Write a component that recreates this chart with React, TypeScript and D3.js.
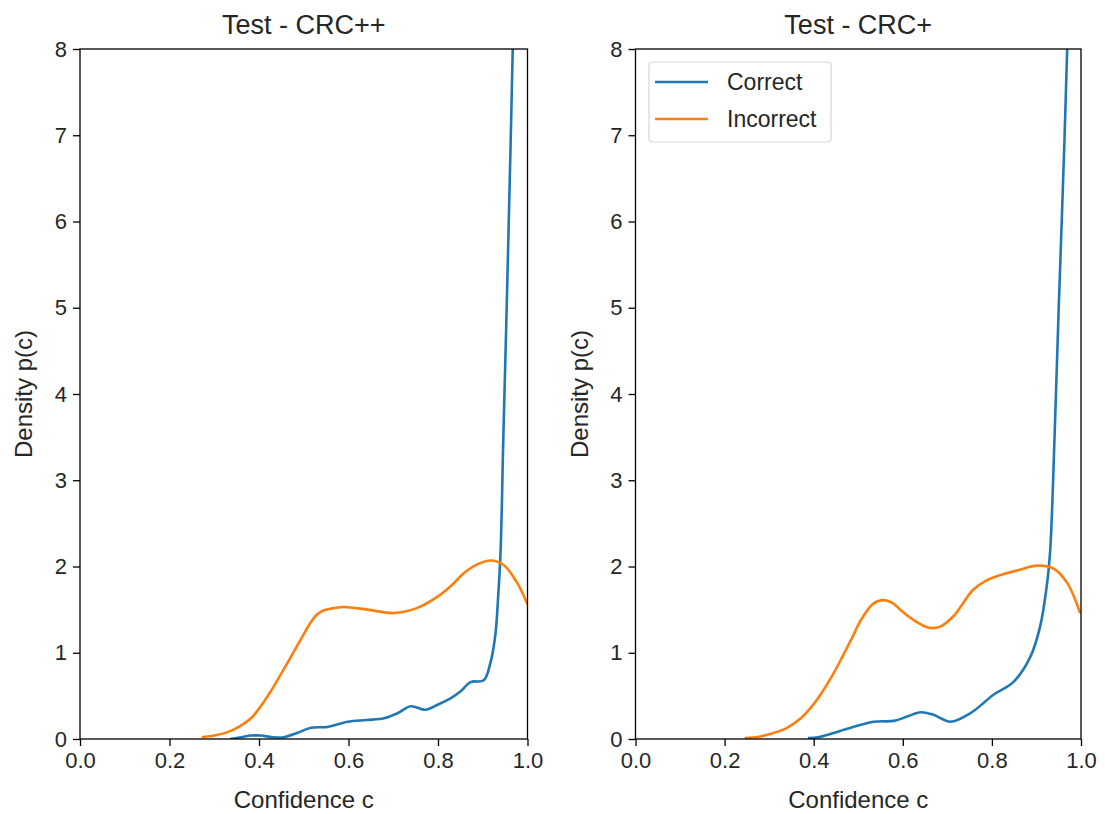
import React, { useEffect, useRef } from 'react';
import * as d3 from 'd3';

// ---- data ----
const xTicks = [0.0, 0.2, 0.4, 0.6, 0.8, 1.0];
const yTicks = [0, 1, 2, 3, 4, 5, 6, 7, 8];
const seriesNames = ['Correct', 'Incorrect'];
const seriesColors = ['#1f77b4', '#ff7f0e'];
const panelTitles = ['Test - CRC++', 'Test - CRC+'];

// left panel (CRC++)
const crcppCorrectC = [0.335, 0.36, 0.382, 0.404, 0.43, 0.455, 0.485, 0.516, 0.553, 0.598, 0.64, 0.679, 0.71, 0.739, 0.772, 0.8, 0.828, 0.85, 0.873, 0.902, 0.917, 0.928, 0.935, 0.94, 0.946, 0.953, 0.96, 0.967, 0.975];
const crcppCorrectD = [0.0, 0.02, 0.04, 0.04, 0.02, 0.02, 0.07, 0.13, 0.14, 0.2, 0.22, 0.24, 0.3, 0.38, 0.34, 0.4, 0.47, 0.55, 0.66, 0.68, 0.88, 1.2, 1.7, 2.2, 3.5, 4.9, 6.4, 8.0, 10.5];
const crcppIncorrectC = [0.272, 0.3, 0.33, 0.355, 0.382, 0.404, 0.426, 0.45, 0.471, 0.495, 0.514, 0.529, 0.544, 0.559, 0.589, 0.642, 0.701, 0.754, 0.799, 0.83, 0.857, 0.89, 0.917, 0.946, 0.977, 1.0];
const crcppIncorrectD = [0.02, 0.04, 0.08, 0.14, 0.24, 0.38, 0.55, 0.76, 0.95, 1.17, 1.34, 1.44, 1.49, 1.51, 1.53, 1.5, 1.46, 1.52, 1.65, 1.78, 1.92, 2.03, 2.07, 2.02, 1.81, 1.56];

// right panel (CRC+)
const crcpCorrectC = [0.387, 0.41, 0.432, 0.483, 0.535, 0.58, 0.61, 0.64, 0.669, 0.707, 0.752, 0.803, 0.848, 0.886, 0.908, 0.924, 0.931, 0.94, 0.95, 0.96, 0.969, 0.977];
const crcpCorrectD = [0.01, 0.02, 0.05, 0.13, 0.2, 0.21, 0.26, 0.31, 0.28, 0.2, 0.3, 0.51, 0.66, 0.95, 1.3, 1.81, 2.2, 3.4, 5.0, 6.5, 8.0, 10.5];
const crcpIncorrectC = [0.245, 0.28, 0.31, 0.34, 0.371, 0.393, 0.416, 0.44, 0.461, 0.485, 0.506, 0.534, 0.556, 0.579, 0.594, 0.624, 0.659, 0.683, 0.713, 0.758, 0.788, 0.819, 0.86, 0.901, 0.937, 0.969, 0.998];
const crcpIncorrectD = [0.01, 0.03, 0.07, 0.13, 0.24, 0.36, 0.52, 0.72, 0.92, 1.16, 1.38, 1.57, 1.61, 1.57, 1.5, 1.38, 1.29, 1.3, 1.42, 1.73, 1.84, 1.9, 1.96, 2.01, 1.98, 1.81, 1.46];

const panels = [
  { title: panelTitles[0], series: [[crcppCorrectC, crcppCorrectD], [crcppIncorrectC, crcppIncorrectD]], left: 80, right: 527.5, legend: false },
  { title: panelTitles[1], series: [[crcpCorrectC, crcpCorrectD], [crcpIncorrectC, crcpIncorrectD]], left: 635.5, right: 1081, legend: true },
];

const FONT = '"Liberation Sans", Arial, sans-serif';
const TOP = 49;
const BOTTOM = 739;

const App = () => {
  const svgRef = useRef<SVGSVGElement | null>(null);

  useEffect(() => {
    const svg = d3.select(svgRef.current);
    svg.selectAll('*').remove();

    svg.append('rect').attr('width', 1105).attr('height', 814).attr('fill', '#fff');

    panels.forEach((p, pi) => {
      const x = d3.scaleLinear().domain([0, 1]).range([p.left, p.right]);
      const y = d3.scaleLinear().domain([0, 8]).range([BOTTOM, TOP]);

      const clipId = `clip-${pi}`;
      svg.append('clipPath').attr('id', clipId)
        .append('rect')
        .attr('x', p.left).attr('y', TOP)
        .attr('width', p.right - p.left).attr('height', BOTTOM - TOP);

      const line = d3.line<[number, number]>()
        .x(d => x(d[0]))
        .y(d => y(d[1]))
        .curve(d3.curveCatmullRom.alpha(0.5));

      p.series.forEach(([cs, ds], si) => {
        const pts = cs.map((c, i) => [c, ds[i]] as [number, number]);
        svg.append('path')
          .datum(pts)
          .attr('clip-path', `url(#${clipId})`)
          .attr('fill', 'none')
          .attr('stroke', seriesColors[si])
          .attr('stroke-width', 2.6)
          .attr('stroke-linejoin', 'round')
          .attr('d', line);
      });

      // axes
      const xAxis = svg.append('g')
        .attr('transform', `translate(0,${BOTTOM})`)
        .call(d3.axisBottom(x).tickValues(xTicks).tickFormat(d3.format('.1f')).tickSizeInner(7).tickSizeOuter(0).tickPadding(6));
      const yAxis = svg.append('g')
        .attr('transform', `translate(${p.left},0)`)
        .call(d3.axisLeft(y).tickValues(yTicks).tickFormat(d3.format('d')).tickSizeInner(7).tickSizeOuter(0).tickPadding(6));
      [xAxis, yAxis].forEach(a => {
        a.select('.domain').remove();
        a.selectAll('line').attr('stroke', '#000').attr('stroke-width', 1.3);
        a.selectAll('text').attr('fill', '#262626').style('font-family', FONT).style('font-size', '22px');
      });

      // frame
      svg.append('rect')
        .attr('x', p.left).attr('y', TOP)
        .attr('width', p.right - p.left).attr('height', BOTTOM - TOP)
        .attr('fill', 'none').attr('stroke', '#000').attr('stroke-width', 1.3);

      const cx = (p.left + p.right) / 2;
      svg.append('text')
        .attr('x', cx).attr('y', 34)
        .attr('text-anchor', 'middle')
        .attr('fill', '#262626')
        .style('font-family', FONT).style('font-size', '27px')
        .text(p.title);

      svg.append('text')
        .attr('x', cx).attr('y', 808)
        .attr('text-anchor', 'middle')
        .attr('fill', '#262626')
        .style('font-family', FONT).style('font-size', '24px')
        .text('Confidence c');

      svg.append('text')
        .attr('transform', `translate(${p.left - 48},${(TOP + BOTTOM) / 2}) rotate(-90)`)
        .attr('text-anchor', 'middle')
        .attr('fill', '#262626')
        .style('font-family', FONT).style('font-size', '24px')
        .text('Density p(c)');

      if (p.legend) {
        const lg = svg.append('g').attr('transform', `translate(${p.left + 13.5},62)`);
        lg.append('rect')
          .attr('width', 182).attr('height', 80).attr('rx', 3)
          .attr('fill', '#fff').attr('fill-opacity', 0.8)
          .attr('stroke', '#d6d6d6').attr('stroke-width', 1.2);
        seriesNames.forEach((name, i) => {
          const yy = 20 + i * 37;
          lg.append('line')
            .attr('x1', 6).attr('x2', 59).attr('y1', yy).attr('y2', yy)
            .attr('stroke', seriesColors[i]).attr('stroke-width', 2.6);
          lg.append('text')
            .attr('x', 78).attr('y', yy + 8)
            .attr('fill', '#262626')
            .style('font-family', FONT).style('font-size', '23px')
            .text(name);
        });
      }
    });
  }, []);

  return (
    <svg
      ref={svgRef}
      width={1105}
      height={814}
      style={{ position: 'absolute', left: 0, top: 0, display: 'block' }}
    />
  );
};

export default App;
